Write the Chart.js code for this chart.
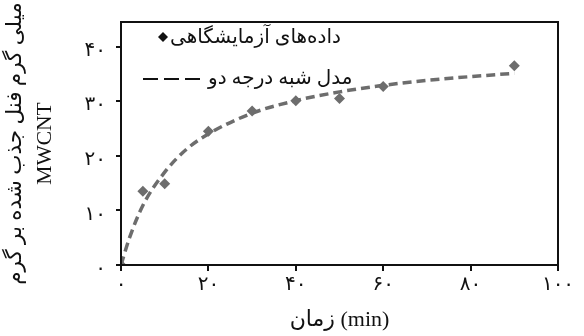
<!DOCTYPE html>
<html>
<head>
<meta charset="utf-8">
<script src="https://cdn.jsdelivr.net/npm/chart.js@4"></script>
<style>
  html, body { margin: 0; padding: 0; background: #fff; }
  #wrap { width: 584px; height: 336px; }
</style>
</head>
<body>
<div id="wrap"><canvas id="kineticsChart"></canvas></div>
<script>
// experimental points (time in min, mg phenol / g MWCNT)
const expTime = [0, 5, 10, 20, 30, 40, 50, 60, 90];
const expQ = [0, 13.5, 14.9, 24.5, 28.2, 30.1, 30.5, 32.7, 36.5];
// pseudo second order model curve
const modelTime = [0, 2, 5, 10, 15, 20, 30, 40, 50, 60, 70, 80, 90];
const modelQ = [0, 5.1, 10.9, 17.0, 21.2, 24.0, 27.8, 30.1, 31.7, 32.9, 33.8, 34.5, 35.1];
const xTicks = [0, 20, 40, 60, 80, 100];
const xTickLabels = ['۰', '۲۰', '۴۰', '۶۰', '۸۰', '۱۰۰'];
const yTicks = [0, 10, 20, 30, 40];
const yTickLabels = ['۰', '۱۰', '۲۰', '۳۰', '۴۰'];
const legendLabels = ['داده‌های آزمایشگاهی', 'مدل شبه درجه دو'];

const gray = '#6d6d6d';
const fontFam = "'Liberation Serif', 'DejaVu Sans', serif";

// frame round the plot + legend inside it
const framePlugin = {
  id: 'frame',
  afterDraw(chart) {
    const { ctx, chartArea: a } = chart;
    ctx.save();
    ctx.strokeStyle = '#111';
    ctx.lineWidth = 2;
    ctx.strokeRect(a.left, a.top, a.right - a.left, a.bottom - a.top);

    ctx.font = '20px ' + fontFam;
    ctx.fillStyle = '#111';
    ctx.textBaseline = 'middle';
    ctx.textAlign = 'left';
    // row 1: diamond + text
    ctx.beginPath();
    ctx.moveTo(163, 32); ctx.lineTo(168, 37); ctx.lineTo(163, 42); ctx.lineTo(158, 37);
    ctx.closePath(); ctx.fill();
    ctx.fillText(legendLabels[0], 170, 38);
    // row 2: dashes + text
    ctx.strokeStyle = '#111';
    ctx.lineWidth = 2;
    ctx.setLineDash([15, 6]);
    ctx.beginPath(); ctx.moveTo(143, 79); ctx.lineTo(200, 79); ctx.stroke();
    ctx.setLineDash([]);
    ctx.fillText(legendLabels[1], 208, 79);
    ctx.restore();
  }
};

new Chart(document.getElementById('kineticsChart'), {
  type: 'scatter',
  data: {
    datasets: [
      {
        label: legendLabels[1],
        data: modelTime.map((t, i) => ({ x: t, y: modelQ[i] })),
        showLine: true,
        borderColor: gray,
        borderWidth: 3.5,
        borderDash: [9, 5],
        cubicInterpolationMode: 'monotone',
        pointRadius: 0,
        order: 2
      },
      {
        label: legendLabels[0],
        data: expTime.map((t, i) => ({ x: t, y: expQ[i] })),
        pointStyle: 'rectRot',
        pointRadius: 5.5,
        backgroundColor: gray,
        borderColor: gray,
        borderWidth: 0,
        order: 1
      }
    ]
  },
  options: {
    responsive: true,
    maintainAspectRatio: false,
    animation: false,
    layout: { padding: { top: 20, right: 26, left: 0, bottom: 0 } },
    plugins: { legend: { display: false }, tooltip: { enabled: false } },
    scales: {
      x: {
        type: 'linear', min: 0, max: 100,
        afterBuildTicks: s => { s.ticks = xTicks.map(v => ({ value: v })); },
        afterFit: s => { s.height = 71; },
        grid: { drawOnChartArea: false, color: '#111', tickLength: 6, lineWidth: 2 },
        border: { display: false },
        ticks: {
          color: '#111', font: { size: 20, family: fontFam }, padding: 2, maxRotation: 0,
          callback: v => xTickLabels[xTicks.indexOf(v)]
        },
        title: {
          display: true, text: 'زمان (min)', color: '#111',
          font: { size: 22, family: fontFam }, padding: { top: 0, bottom: 3 }
        }
      },
      y: {
        type: 'linear', min: 0, max: 44.5,
        afterBuildTicks: s => { s.ticks = yTicks.map(v => ({ value: v })); },
        afterFit: s => { s.width = 121; },
        grid: { drawOnChartArea: false, color: '#111', tickLength: 5, lineWidth: 2 },
        border: { display: false },
        ticks: {
          color: '#111', font: { size: 20, family: fontFam }, padding: 10, labelOffset: 4,
          callback: v => yTickLabels[yTicks.indexOf(v)]
        },
        title: {
          display: true, text: ['میلی گرم فنل جذب شده بر گرم', 'MWCNT'], color: '#111',
          font: { size: 21.5, family: fontFam, lineHeight: 1.4 }, padding: { top: 0, bottom: 12 }
        }
      }
    }
  },
  plugins: [framePlugin]
});
</script>
</body>
</html>
